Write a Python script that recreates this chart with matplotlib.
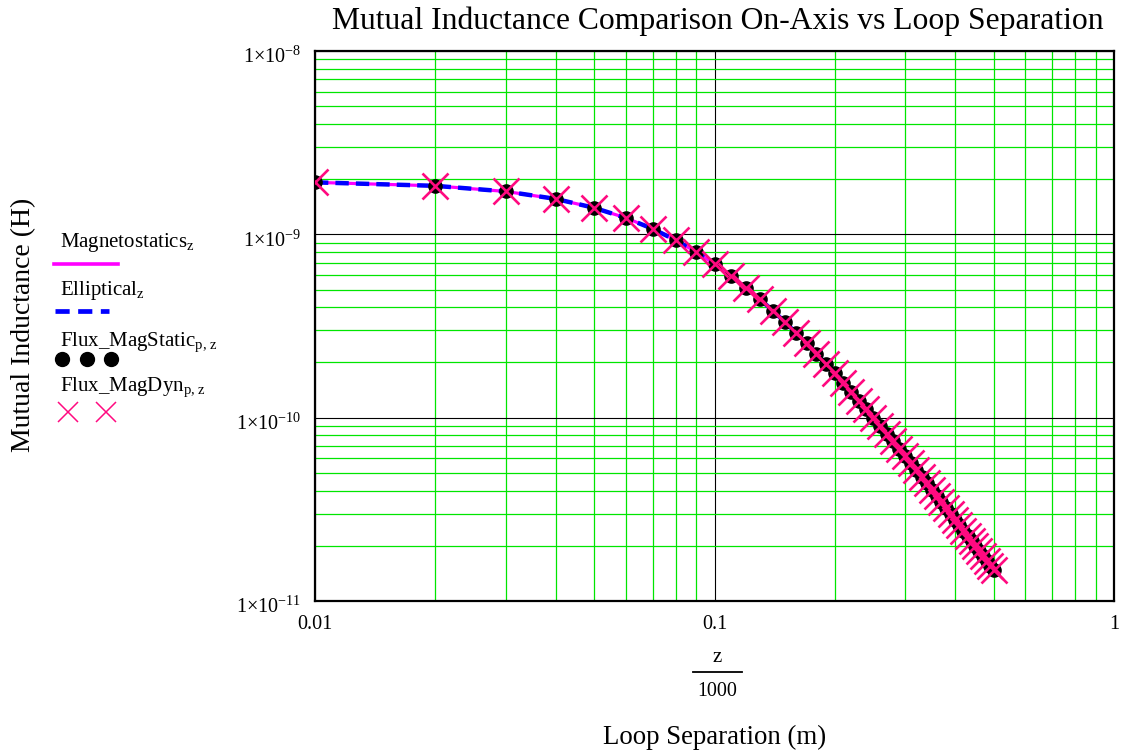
import matplotlib
matplotlib.use("Agg")
import matplotlib.pyplot as plt
from matplotlib.lines import Line2D
from matplotlib.ticker import FixedLocator, FixedFormatter, LogLocator, NullFormatter
from matplotlib.transforms import ScaledTranslation

plt.rcParams['font.family'] = ['Liberation Serif', 'DejaVu Serif']
plt.rcParams['mathtext.fontset'] = 'custom'
plt.rcParams['mathtext.rm'] = 'Liberation Serif'
plt.rcParams['mathtext.it'] = 'Liberation Serif:italic'
plt.rcParams['mathtext.bf'] = 'Liberation Serif:bold'

# ---- data (loop separation z in mm, mutual inductance in H) ----
z_mm = [10, 20, 30, 40, 50, 60, 70, 80, 90, 100,
        110, 120, 130, 140, 150, 160, 170, 180, 190, 200,
        210, 220, 230, 240, 250, 260, 270, 280, 290, 300,
        310, 320, 330, 340, 350, 360, 370, 380, 390, 400,
        410, 420, 430, 440, 450, 460, 470, 480, 490, 500]

magnetostatics = [1.921e-9, 1.839e-9, 1.714e-9, 1.561e-9, 1.395e-9,
                  1.229e-9, 1.072e-9, 9.285e-10, 8.008e-10, 6.894e-10,
                  5.935e-10, 5.116e-10, 4.420e-10, 3.829e-10, 3.328e-10,
                  2.903e-10, 2.542e-10, 2.233e-10, 1.970e-10, 1.744e-10,
                  1.550e-10, 1.382e-10, 1.236e-10, 1.109e-10, 9.989e-11,
                  9.021e-11, 8.170e-11, 7.419e-11, 6.755e-11, 6.166e-11,
                  5.642e-11, 5.175e-11, 4.756e-11, 4.381e-11, 4.043e-11,
                  3.739e-11, 3.463e-11, 3.214e-11, 2.988e-11, 2.782e-11,
                  2.594e-11, 2.423e-11, 2.266e-11, 2.123e-11, 1.991e-11,
                  1.869e-11, 1.758e-11, 1.654e-11, 1.559e-11, 1.471e-11]
elliptical = list(magnetostatics)
flux_magstatic = list(magnetostatics)
flux_magdyn = list(magnetostatics)

y_ticks = [1e-11, 1e-10, 1e-9, 1e-8]
y_tick_labels = [r'$1{\times}10^{-11}$', r'$1{\times}10^{-10}$',
                 r'$1{\times}10^{-9}$', r'$1{\times}10^{-8}$']
x_ticks = [0.01, 0.1, 1]
x_tick_labels = ['0.01', '0.1', '1']

title = 'Mutual Inductance Comparison On-Axis vs Loop Separation'
ylabel = 'Mutual Inductance (H)'
xlabel = 'Loop Separation (m)'

MAGENTA = '#ff00ff'
BLUE = '#0000ff'
PINK = '#ff0a80'
GREEN = '#00e600'

W, H = 1127, 755
fig = plt.figure(figsize=(W / 100, H / 100), dpi=100)


def fx(px):
    return px / W


def fy(py):
    return 1 - py / H


ax = fig.add_axes([fx(315), fy(601), (1114 - 315) / W, (601 - 51) / H])
ax.set_xscale('log')
ax.set_yscale('log')
ax.set_xlim(0.01, 1)
ax.set_ylim(1e-11, 1e-8)

x_m = [z / 1000 for z in z_mm]
ax.plot(x_m, magnetostatics, color=MAGENTA, lw=2.3, zorder=3)
ax.plot(x_m, elliptical, color=BLUE, lw=3.2, ls=(0, (3.0, 1.6)), zorder=4)
ax.plot(x_m, flux_magstatic, ls='none', marker='o', ms=9.5, color='black', zorder=5)
ax.plot(x_m, flux_magdyn, ls='none', marker='x', ms=18.5, mew=1.9, color=PINK, zorder=6)

ax.xaxis.set_major_locator(FixedLocator(x_ticks))
ax.xaxis.set_major_formatter(FixedFormatter(x_tick_labels))
ax.xaxis.set_minor_locator(LogLocator(base=10, subs=[2, 3, 4, 5, 6, 7, 8, 9]))
ax.xaxis.set_minor_formatter(NullFormatter())
ax.yaxis.set_major_locator(FixedLocator(y_ticks))
ax.yaxis.set_major_formatter(FixedFormatter(y_tick_labels))
ax.yaxis.set_minor_locator(LogLocator(base=10, subs=[2, 3, 4, 5, 6, 7, 8, 9]))
ax.yaxis.set_minor_formatter(NullFormatter())

ax.grid(which='minor', color=GREEN, lw=0.9)
ax.grid(which='major', color='black', lw=0.8)
ax.set_axisbelow(True)
ax.tick_params(which='both', length=0)
ax.tick_params(axis='x', labelsize=14.5, pad=10)
ax.tick_params(axis='y', labelsize=14.5, pad=10)
for sp in ax.spines.values():
    sp.set_linewidth(1.6)
    sp.set_color('black')

for lab in ax.get_yticklabels():
    lab.set_transform(lab.get_transform() + ScaledTranslation(0, -3 / 72, fig.dpi_scale_trans))

# title and axis labels
fig.text(fx(718), fy(21), title, ha='center', va='center', fontsize=22.8)
fig.text(fx(24), fy(325), ylabel, ha='center', va='center', rotation=90, fontsize=20)
fig.text(fx(717), fy(657), 'z', ha='center', va='center', fontsize=15)
fig.add_artist(Line2D([fx(693), fx(742)], [fy(672), fy(672)], color='black', lw=1.3))
fig.text(fx(717), fy(691), '1000', ha='center', va='center', fontsize=14.4)
fig.text(fx(715), fy(737), xlabel, ha='center', va='center', fontsize=19.4)

# legend (text above its line sample, outside the axes on the left)
leg_fs = 15
fig.text(fx(60), fy(243), r'Magnetostatics$_{\mathrm{z}}$', ha='left', va='center', fontsize=leg_fs)
fig.add_artist(Line2D([fx(54), fx(118)], [fy(264), fy(264)], color=MAGENTA, lw=2.6))
fig.text(fx(60), fy(291), r'Elliptical$_{\mathrm{z}}$', ha='left', va='center', fontsize=leg_fs)
fig.add_artist(Line2D([fx(55), fx(109)], [fy(311), fy(311)], color=BLUE, lw=3.4,
                      ls=(0, (3.0, 1.8)), solid_capstyle='round'))
fig.text(fx(60), fy(342), r'Flux_MagStatic$_{\mathrm{p,\,z}}$', ha='left', va='center', fontsize=leg_fs)
fig.add_artist(Line2D([fx(62), fx(87), fx(111)], [fy(359)] * 3, ls='none',
                      marker='o', ms=10, color='black'))
fig.text(fx(60), fy(387), r'Flux_MagDyn$_{\mathrm{p,\,z}}$', ha='left', va='center', fontsize=leg_fs)
fig.add_artist(Line2D([fx(68), fx(106)], [fy(412)] * 2, ls='none',
                      marker='x', ms=15, mew=1.1, color=PINK))

fig.savefig('out.png', dpi=100)
